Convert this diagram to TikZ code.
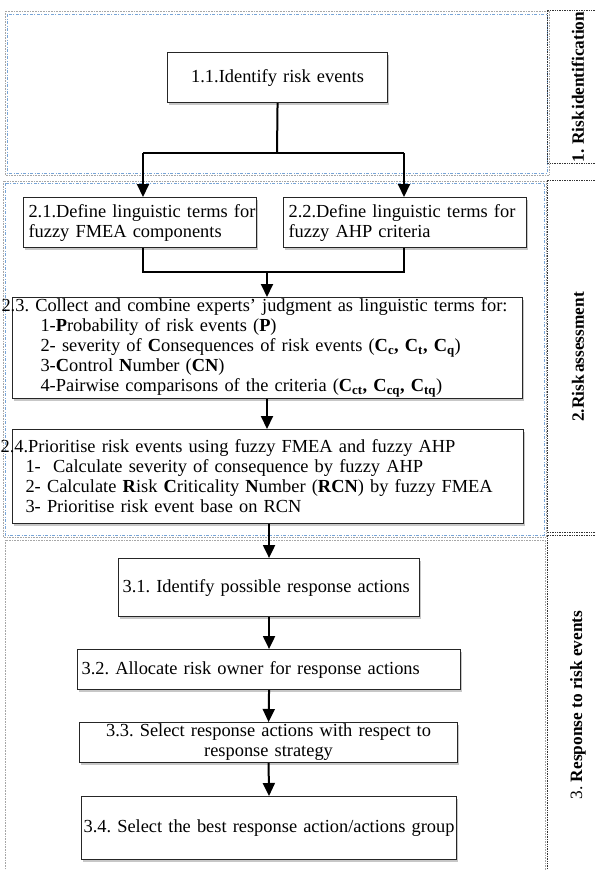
\documentclass[tikz,border=0pt]{standalone}
\usepackage{fontspec}
\setmainfont{Liberation Serif}
\usetikzlibrary{arrows.meta,shadows}
\definecolor{frameblue}{RGB}{120,165,215}
\frenchspacing
\begin{document}
\begin{tikzpicture}[x=1pt,y=-1pt,
  box/.style={draw=black!85, line width=1.1pt, fill=white, rectangle,
    inner xsep=0pt, inner ysep=0pt, anchor=north west,
    font=\fontsize{18.4}{20}\selectfont,
    drop shadow={shadow xshift=1.5pt, shadow yshift=-2.5pt, fill=black!22, opacity=1}},
  conn/.style={line width=2pt, black},
  arr/.style={conn, -{Triangle[width=12pt,length=13pt]}},
  bluefr/.style={draw=frameblue, line width=0.8pt, dash pattern=on 3pt off 1.5pt on 1pt off 1.5pt},
  grayfr/.style={draw=black!35, line width=0.6pt, densely dotted},
  panel/.style={draw=black!80, line width=0.7pt, densely dotted},
  lab/.style={rotate=90, font=\bfseries\fontsize{17.3}{20}\selectfont, inner sep=0pt}]
\useasboundingbox (0,0) rectangle (596,870);

% phase frames
\draw[grayfr] (5,11) rectangle (549,175);
\draw[bluefr] (7,14) rectangle (547,173);
\draw[grayfr] (3,181) rectangle (546,537);
\draw[bluefr] (5,183) rectangle (544,535);
\draw[grayfr] (5,540) rectangle (545,875);

% side panels
\draw[panel] (600,10) -- (547,10) -- (547,163) -- (600,163);
\draw[panel] (600,180) -- (547,180) -- (547,532) -- (600,532);
\draw[panel] (600,535) -- (547,535) -- (547,875);

\node[lab] (l1) at (578,87) {1. Risk\kern1.5pt identification};
\node[lab] (l2) at (578,357) {2.Risk\kern2.5pt assessment};
\node[lab] (l3) at (578,705) {\mdseries 3. \bfseries Response to risk events};

% boxes
\node[box, minimum width=220pt, minimum height=50pt, text width=220pt, align=center] (n11) at (167,52) {1.1.Identify risk events};

\node[box, minimum width=233pt, minimum height=50pt, text width=233pt, align=left] (n21) at (23,197)
  {\hspace*{5pt}2.1.Define linguistic terms for\\\hspace*{5pt}fuzzy FMEA components};
\node[box, minimum width=243pt, minimum height=50pt, text width=243pt, align=left] (n22) at (283,197)
  {\hspace*{5pt}2.2.Define linguistic terms for\\\hspace*{5pt}fuzzy AHP criteria};

\node[box, minimum width=510pt, minimum height=101pt, text width=510pt, align=left] (n23) at (12,297)
  {\hspace*{-11pt}2.3. Collect and combine experts’ judgment as linguistic terms for:\\
   \hspace*{28pt}1-\textbf{P}robability of risk events (\textbf{P})\\
   \hspace*{28pt}2- severity of \textbf{C}onsequences of risk events (\textbf{C\textsubscript{c}, C\textsubscript{t}, C\textsubscript{q}})\\
   \hspace*{28pt}3-\textbf{C}ontrol \textbf{N}umber (\textbf{CN})\\
   \hspace*{28pt}4-Pairwise comparisons of the criteria (\textbf{C\textsubscript{ct}, C\textsubscript{cq}, C\textsubscript{tq}})};

\node[box, minimum width=511pt, minimum height=94pt, text width=511pt, align=left] (n24) at (12,429)
  {\hspace*{-12pt}2.4.Prioritise risk events using fuzzy FMEA and fuzzy AHP\\
   \hspace*{13pt}1-\ \ Calculate severity of consequence by fuzzy AHP\\
   \hspace*{13pt}2- Calculate \textbf{R}isk \textbf{C}riticality \textbf{N}umber (\textbf{RCN}) by fuzzy FMEA\\
   \hspace*{13pt}3- Prioritise risk event base on RCN};

\node[box, minimum width=301pt, minimum height=58pt, text width=301pt, align=left] (n31) at (118,558)
  {\hspace*{4pt}3.1. Identify possible response actions};
\node[box, minimum width=383pt, minimum height=40pt, text width=383pt, align=left] (n32) at (77,649)
  {\hspace*{4pt}3.2. Allocate risk owner for response actions};
\node[box, minimum width=378pt, minimum height=40pt, text width=378pt, align=center] (n33) at (79,722)
  {3.3. Select response actions with respect to\\response strategy};
\node[box, minimum width=375pt, minimum height=63pt, text width=375pt, align=center] (n34) at (81,796)
  {3.4. Select the best response action/actions group};

% connectors
\coordinate (j1) at (277,153);
\coordinate (j1l) at (143,153);
\coordinate (j1r) at (404,153);
\coordinate (j2) at (267,272);
\coordinate (j2l) at (143,272);
\coordinate (j2r) at (404,272);

\draw[conn] (n11.south) -- (j1);
\draw[conn] (j1l) -- (j1r);
\draw[arr] (j1l) -- (j1l |- n21.north);
\draw[arr] (j1r) -- (j1r |- n22.north);
\draw[conn] (j1l |- n21.south) -- (j2l) -- (j2r) -- (j1r |- n22.south);
\draw[arr] (j2) -- (j2 |- n23.north);
\draw[arr] (j2 |- n23.south) -- (j2 |- n24.north);
\draw[arr] (n31.north |- n24.south) -- (n31.north);
\draw[arr] (n31.south) -- (n32.north);
\draw[arr] (n32.south) -- (n33.north);
\draw[arr] (n33.south) -- (n34.north);
\end{tikzpicture}
\end{document}
